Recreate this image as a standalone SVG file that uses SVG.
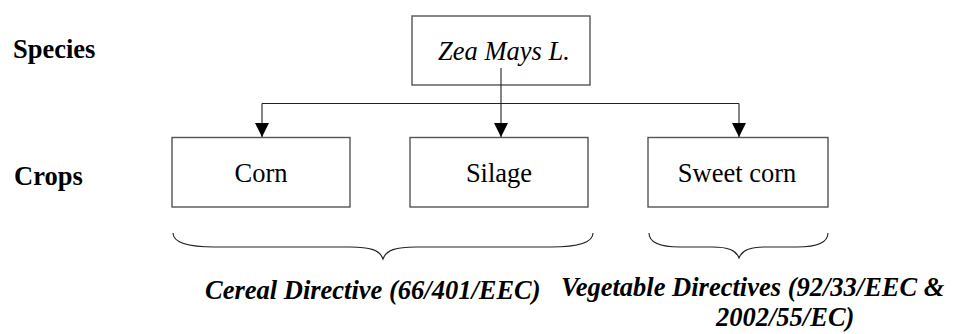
<svg xmlns="http://www.w3.org/2000/svg" width="965" height="334" viewBox="0 0 965 334">
  <defs>
    <marker id="arrow" markerWidth="14" markerHeight="14" refX="14" refY="7" orient="auto" markerUnits="userSpaceOnUse">
      <path d="M0,0 L14,7 L0,14 Z" fill="#000"/>
    </marker>
    <style>
      .box { fill: #fff; stroke: #555; stroke-width: 1.4; }
      .txt { font-family: "Liberation Serif", "Times New Roman", serif; font-size: 26.5px; fill: #000; }
      .it { font-style: italic; }
      .bold { font-weight: bold; }
      .dir { font-family: "Liberation Serif", "Times New Roman", serif; font-size: 26.5px; font-weight: bold; font-style: italic; fill: #000; }
      .wire { fill: none; stroke: #222; stroke-width: 1.1; }
      .brace { fill: none; stroke: #222; stroke-width: 1.1; }
    </style>
  </defs>
  <rect width="965" height="334" fill="#fff"/>

  <!-- row labels -->
  <text class="txt bold" x="13" y="58">Species</text>
  <text class="txt bold" x="14" y="185">Crops</text>

  <!-- species node -->
  <g id="zea-mays">
    <rect class="box" x="412" y="16" width="178" height="69"/>
    <text class="txt it" x="504" y="60" text-anchor="middle">Zea Mays L.</text>
  </g>

  <!-- crop nodes -->
  <g id="corn">
    <rect class="box" x="172" y="137.5" width="178" height="69.5"/>
    <text class="txt" x="261" y="182" text-anchor="middle">Corn</text>
  </g>
  <g id="silage">
    <rect class="box" x="410" y="137.5" width="178" height="69.5"/>
    <text class="txt" x="499" y="182" text-anchor="middle">Silage</text>
  </g>
  <g id="sweet-corn">
    <rect class="box" x="648" y="137.5" width="180" height="69.5"/>
    <text class="txt" x="737" y="182" text-anchor="middle">Sweet corn</text>
  </g>

  <!-- connectors -->
  <g id="connectors">
    <path class="wire" d="M262,103.5 L739,103.5"/>
    <path class="wire" d="M501,68 L501,137" marker-end="url(#arrow)"/>
    <path class="wire" d="M262,103.5 L262,137" marker-end="url(#arrow)"/>
    <path class="wire" d="M739,103.5 L739,137" marker-end="url(#arrow)"/>
  </g>

  <!-- braces grouping the crops -->
  <path class="brace" d="M173,233 C173,242 185,247 215,247 L350,247 C370,247 380,250 383,259 C386,250 396,247 416,247 L551,247 C581,247 593,242 593,233"/>
  <path class="brace" d="M649,233 C649,242 658,247 680,247 L712,247 C728,247 736,250 739,258 C742,250 750,247 766,247 L797,247 C819,247 828,242 828,233"/>

  <!-- directive captions -->
  <text class="dir" x="205" y="299">Cereal Directive (66/401/EEC)</text>
  <text class="dir" x="561" y="296">Vegetable Directives (92/33/EEC &amp;</text>
  <text class="dir" x="716" y="326">2002/55/EC)</text>
</svg>
